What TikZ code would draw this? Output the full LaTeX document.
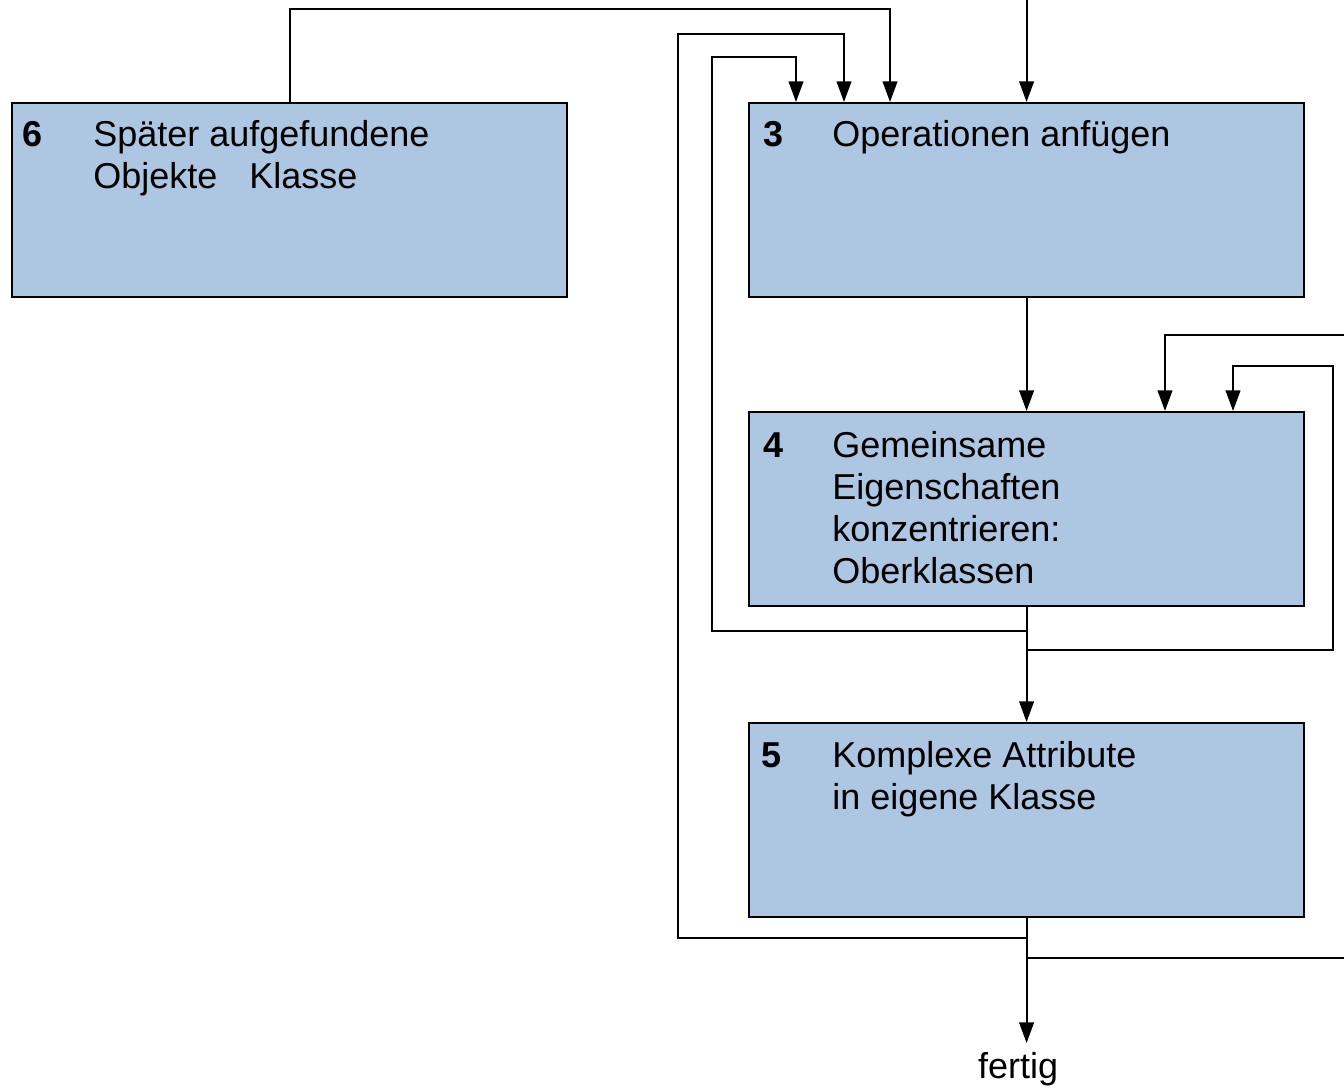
\documentclass[tikz,border=0pt]{standalone}
\usepackage{fontspec}
\setmainfont{Liberation Sans}
\usetikzlibrary{arrows.meta,calc}
\definecolor{boxfill}{RGB}{173,198,225}
\tikzset{
  stepbox/.style={draw=black, line width=1.6pt, fill=boxfill,
    minimum width=416.25pt, minimum height=145.5pt, anchor=north west, inner sep=0pt},
  numlabel/.style={anchor=base west, inner sep=0pt, font=\fontsize{27}{31.5}\selectfont\bfseries},
  % multi-line texts are anchored at the baseline of their last line
  steptext/.style={anchor=base west, inner sep=0pt, align=left, font=\fontsize{27}{31.5}\selectfont},
  plain/.style={inner sep=0pt, font=\fontsize{27}{31.5}\selectfont},
  link/.style={line width=1.5pt},
  flow/.style={link, -{Triangle[length=15.5pt,width=11pt]}},
}
\begin{document}
\begin{tikzpicture}[x=0.75pt,y=-0.75pt]
\useasboundingbox (0,0) rectangle (1344,1088);
\clip (0,0) rectangle (1344,1088);

% step boxes
\node[stepbox] (b6) at (11,102) {};
\node[stepbox] (b3) at (748,102) {};
\node[stepbox] (b4) at (748,411) {};
\node[stepbox] (b5) at (748,722) {};

% numbers and descriptions (line pitch 42 units)
\node[numlabel] (n6) at ($(b6.north west)+(11,44)$) {6};
\node[steptext] (t6) at ($(b6.north west)+(82,44+42)$) {Später aufgefundene\\Objekte\hspace{24pt}Klasse};
\node[numlabel] (n3) at ($(b3.north west)+(15,44)$) {3};
\node[steptext] (t3) at ($(b3.north west)+(84,44)$) {Operationen anfügen};
\node[numlabel] (n4) at ($(b4.north west)+(15,46)$) {4};
\node[steptext] (t4) at ($(b4.north west)+(84,46+126)$) {Gemeinsame\\Eigenschaften\\konzentrieren:\\Oberklassen};
\node[numlabel] (n5) at ($(b5.north west)+(13,45)$) {5};
\node[steptext] (t5) at ($(b5.north west)+(84,45+42)$) {Komplexe Attribute\\in eigene Klasse};

% entry points on the box tops
\coordinate (p3a) at ($(b3.north west)+(48,0)$);
\coordinate (p3b) at ($(b3.north west)+(96,0)$);
\coordinate (p3c) at ($(b3.north west)+(142,0)$);
\coordinate (p4a) at ($(b4.north west)+(417,0)$);
\coordinate (p4b) at ($(b4.north west)+(485,0)$);

% branch points below boxes 4 and 5
\coordinate (j4a) at (b4.south |- 0,631);
\coordinate (j4b) at (b4.south |- 0,650);
\coordinate (j5a) at (b5.south |- 0,938);
\coordinate (j5b) at (b5.south |- 0,958);

% start and end
\coordinate (start) at (b3.north |- 0,-5);
\coordinate (finish) at (b5.south |- 0,1043);
\node[plain, anchor=base] (done) at (1018,1078) {fertig};

% main flow
\draw[flow] (start) -- (b3.north);
\draw[flow] (b3.south) -- (b4.north);
\draw[flow] (b4.south) -- (b5.north);
\draw[flow] (b5.south) -- (finish);

% loops back to step 3
\draw[flow] (b6.north) -- (b6.north |- 0,9) -| (p3c);
\draw[flow] (j5a) -- (678,938) -- (678,34) -| (p3b);
\draw[flow] (j4a) -- (712,631) -- (712,57) -| (p3a);

% loops back to step 4
\draw[flow] (j4b) -- (1333,650) -- (1333,366) -| (p4b);
\draw[flow] (j5b) -- (1360,958) -- (1360,335) -| (p4a);
\end{tikzpicture}
\end{document}
